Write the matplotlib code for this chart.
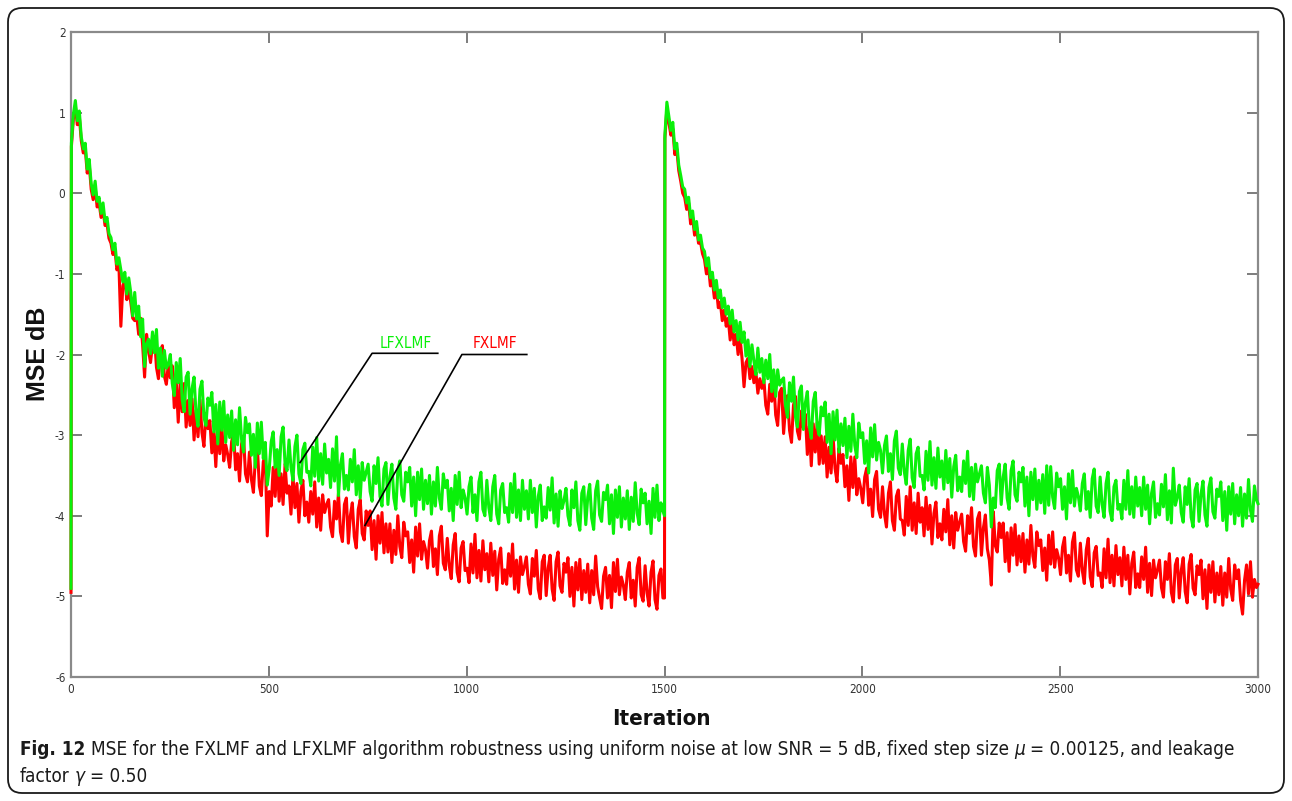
import numpy as np
import matplotlib
matplotlib.use('Agg')
import matplotlib.pyplot as plt
from matplotlib.patches import FancyBboxPatch
from matplotlib.transforms import IdentityTransform

# ---------------- data ----------------
# iteration positions: first run 0..1500, second run (re-start) 1501..3000
iters_a = np.concatenate([[0], np.arange(1, 1500, 5), [1500]])
iters_b = np.concatenate([np.arange(1501, 3000, 5), [3000]])

# LFXLMF (green), first run
lfxlmf_a = [-4.90,
    0.62, 0.98, 1.15, 0.90, 1.02, 0.70, 0.55, 0.62, 0.30, 0.42,
    0.12, -0.02, 0.15, -0.10, -0.05, -0.25, -0.12, -0.35, -0.30, -0.50,
    -0.55, -0.70, -0.62, -0.88, -0.80, -0.95, -1.10, -0.98, -1.25, -1.05,
    -1.23, -1.52, -1.23, -1.56, -1.40, -1.78, -1.56, -2.15, -1.87, -1.81,
    -1.99, -1.72, -1.98, -1.69, -2.17, -1.92, -2.27, -1.95, -2.17, -2.12,
    -2.00, -2.36, -2.51, -2.10, -2.35, -2.05, -2.56, -2.71, -2.28, -2.22,
    -2.74, -2.42, -2.28, -2.73, -2.89, -2.43, -2.33, -2.78, -2.88, -2.54,
    -2.63, -2.47, -2.96, -2.62, -3.11, -2.59, -2.94, -2.58, -3.09, -2.75,
    -3.03, -2.70, -3.19, -2.81, -3.12, -2.66, -3.05, -3.21, -2.78, -2.97,
    -2.86, -3.25, -2.99, -3.40, -2.85, -3.23, -2.84, -3.29, -3.09, -3.62,
    -3.42, -3.08, -2.96, -3.40, -3.18, -3.50, -3.02, -2.90, -3.36, -3.44,
    -3.06, -3.40, -3.56, -3.14, -3.00, -3.48, -3.60, -3.18, -3.10, -3.46,
    -3.45, -3.63, -3.15, -3.51, -3.03, -3.57, -3.23, -3.61, -3.11, -3.47,
    -3.30, -3.65, -3.17, -3.57, -3.02, -3.75, -3.37, -3.23, -3.67, -3.50,
    -3.68, -3.30, -3.58, -3.18, -3.74, -3.38, -3.78, -3.34, -3.56, -3.46,
    -3.36, -3.70, -3.82, -3.38, -3.60, -3.28, -3.76, -3.88, -3.42, -3.34,
    -3.86, -3.52, -3.36, -3.78, -3.92, -3.44, -3.32, -3.74, -3.82, -3.46,
    -3.58, -3.40, -3.88, -3.52, -4.00, -3.46, -3.80, -3.42, -3.92, -3.56,
    -3.85, -3.50, -3.98, -3.58, -3.88, -3.40, -3.78, -3.92, -3.48, -3.65,
    -3.56, -3.94, -3.66, -4.06, -3.50, -3.86, -3.46, -3.90, -3.68, -3.78,
    -3.98, -3.64, -3.52, -3.96, -3.74, -4.06, -3.58, -3.46, -3.92, -4.00,
    -3.56, -3.90, -4.06, -3.64, -3.50, -3.98, -4.10, -3.68, -3.60, -3.96,
    -3.90, -4.08, -3.60, -3.96, -3.48, -4.02, -3.68, -4.06, -3.56, -3.92,
    -3.69, -4.04, -3.56, -3.96, -3.66, -4.14, -3.76, -3.62, -4.06, -3.89,
    -4.03, -3.65, -3.93, -3.53, -4.09, -3.73, -4.13, -3.69, -3.91, -3.81,
    -3.66, -4.00, -4.12, -3.68, -3.90, -3.58, -4.06, -4.18, -3.72, -3.64,
    -4.11, -3.77, -3.61, -4.03, -4.17, -3.69, -3.57, -3.99, -4.07, -3.71,
    -3.80, -3.62, -4.10, -3.74, -4.22, -3.68, -4.02, -3.64, -4.14, -3.78,
    -4.04, -3.69, -4.17, -3.77, -4.07, -3.59, -3.97, -4.11, -3.67, -3.84,
    -3.72, -4.10, -3.82, -4.22, -3.66, -4.02, -3.62, -4.06, -3.84, -3.94,
    -4.00]

# FXLMF (red), first run
fxlmf_a = [-4.95,
    0.58, 0.92, 1.08, 0.85, 0.95, 0.65, 0.50, 0.55, 0.25, 0.36,
    0.05, -0.08, 0.08, -0.17, -0.12, -0.30, -0.20, -0.40, -0.38, -0.56,
    -0.62, -0.76, -0.70, -0.95, -0.88, -1.65, -1.15, -1.05, -1.32, -1.20,
    -1.35, -1.55, -1.58, -1.52, -1.75, -1.55, -1.88, -2.28, -1.75, -1.95,
    -2.10, -1.87, -1.78, -2.16, -2.30, -1.96, -1.89, -2.27, -2.37, -2.12,
    -2.29, -2.14, -2.66, -2.33, -2.84, -2.34, -2.71, -2.36, -2.90, -2.57,
    -2.88, -2.55, -3.06, -2.69, -3.02, -2.56, -2.97, -3.14, -2.73, -2.92,
    -2.82, -3.22, -2.96, -3.39, -2.85, -3.23, -2.85, -3.32, -3.12, -3.24,
    -3.40, -3.08, -2.97, -3.43, -3.23, -3.57, -3.11, -3.01, -3.48, -3.58,
    -3.21, -3.55, -3.71, -3.29, -3.15, -3.63, -3.75, -3.33, -3.25, -4.25,
    -3.70, -3.88, -3.40, -3.76, -3.28, -3.82, -3.48, -3.86, -3.36, -3.72,
    -3.63, -3.98, -3.50, -3.90, -3.60, -4.08, -3.70, -3.56, -4.00, -3.83,
    -4.08, -3.70, -3.98, -3.58, -4.14, -3.78, -4.18, -3.74, -3.96, -3.86,
    -3.80, -4.14, -4.26, -3.82, -4.04, -3.72, -4.20, -4.32, -3.86, -3.78,
    -4.34, -4.00, -3.84, -4.26, -4.40, -3.92, -3.80, -4.22, -4.30, -3.94,
    -4.12, -3.94, -4.42, -4.06, -4.54, -4.00, -4.34, -3.96, -4.46, -4.10,
    -4.45, -4.10, -4.58, -4.18, -4.48, -4.00, -4.38, -4.52, -4.08, -4.25,
    -4.20, -4.58, -4.30, -4.70, -4.14, -4.50, -4.10, -4.54, -4.32, -4.42,
    -4.65, -4.31, -4.19, -4.63, -4.41, -4.73, -4.25, -4.13, -4.59, -4.67,
    -4.28, -4.62, -4.78, -4.36, -4.22, -4.70, -4.82, -4.40, -4.32, -4.68,
    -4.65, -4.83, -4.35, -4.71, -4.23, -4.77, -4.43, -4.81, -4.31, -4.67,
    -4.47, -4.82, -4.34, -4.74, -4.44, -4.92, -4.54, -4.40, -4.84, -4.67,
    -4.85, -4.47, -4.75, -4.35, -4.91, -4.55, -4.95, -4.51, -4.73, -4.63,
    -4.51, -4.85, -4.97, -4.53, -4.75, -4.43, -4.91, -5.03, -4.57, -4.49,
    -4.99, -4.65, -4.49, -4.91, -5.05, -4.57, -4.45, -4.87, -4.95, -4.59,
    -4.70, -4.52, -5.00, -4.64, -5.12, -4.58, -4.92, -4.54, -5.04, -4.68,
    -4.95, -4.60, -5.08, -4.68, -4.98, -4.50, -4.88, -5.02, -5.15, -4.75,
    -4.64, -5.02, -4.74, -5.14, -4.58, -4.94, -4.54, -4.98, -4.76, -4.86,
    -5.04, -4.70, -4.58, -5.02, -4.80, -5.12, -4.64, -4.52, -4.98, -5.06,
    -4.62, -4.96, -5.12, -4.70, -4.56, -5.04, -5.16, -4.74, -4.66, -5.02,
    -5.02]

# LFXLMF (green), second run
lfxlmf_b = [
    0.72, 1.13, 0.95, 0.78, 0.88, 0.55, 0.62, 0.35, 0.22, 0.08,
    0.05, -0.12, -0.05, -0.30, -0.22, -0.45, -0.35, -0.58, -0.52, -0.68,
    -0.72, -0.90, -0.80, -1.05, -0.98, -1.20, -1.08, -1.30, -1.20, -1.42,
    -1.30, -1.50, -1.40, -1.62, -1.45, -1.72, -1.58, -1.82, -1.60, -1.85,
    -1.72, -2.02, -1.82, -2.15, -1.88, -2.08, -2.25, -1.92, -2.22, -2.05,
    -2.35, -2.07, -2.30, -2.00, -2.46, -2.19, -2.52, -2.19, -2.38, -2.32,
    -2.29, -2.64, -2.78, -2.35, -2.58, -2.28, -2.77, -2.90, -2.46, -2.39,
    -2.93, -2.60, -2.46, -2.89, -3.04, -2.58, -2.47, -2.90, -3.00, -2.65,
    -2.76, -2.59, -3.09, -2.74, -3.23, -2.71, -3.06, -2.69, -3.21, -2.86,
    -3.13, -2.79, -3.28, -2.89, -3.20, -2.74, -3.13, -3.28, -2.85, -3.03,
    -2.97, -3.35, -3.07, -3.47, -2.91, -3.27, -2.87, -3.31, -3.09, -3.19,
    -3.47, -3.13, -3.01, -3.45, -3.23, -3.55, -3.07, -2.95, -3.41, -3.49,
    -3.11, -3.45, -3.61, -3.19, -3.05, -3.53, -3.65, -3.23, -3.15, -3.51,
    -3.50, -3.68, -3.20, -3.56, -3.08, -3.62, -3.28, -3.66, -3.16, -3.52,
    -3.32, -3.67, -3.19, -3.59, -3.29, -3.77, -3.39, -3.25, -3.69, -3.52,
    -3.70, -3.32, -3.60, -3.20, -3.76, -3.40, -3.80, -3.36, -3.58, -3.48,
    -3.38, -3.72, -3.84, -3.40, -3.62, -4.14, -3.78, -3.90, -3.44, -3.36,
    -3.86, -3.52, -3.36, -3.78, -3.92, -3.44, -3.32, -3.74, -3.82, -3.46,
    -3.58, -3.40, -3.88, -3.52, -4.00, -3.46, -3.80, -3.42, -3.92, -3.56,
    -3.84, -3.49, -3.97, -3.38, -3.87, -3.39, -3.77, -3.91, -3.47, -3.64,
    -3.54, -3.92, -3.64, -4.04, -3.48, -3.84, -3.44, -3.88, -3.66, -3.76,
    -3.94, -3.60, -3.48, -3.92, -3.70, -4.02, -3.54, -3.42, -3.88, -3.96,
    -3.52, -3.86, -4.02, -3.60, -3.46, -3.94, -4.06, -3.64, -3.56, -3.92,
    -3.86, -4.04, -3.56, -3.92, -3.44, -3.98, -3.64, -4.02, -3.52, -3.88,
    -3.65, -4.00, -3.52, -3.92, -3.62, -4.10, -3.72, -3.58, -4.02, -3.85,
    -3.99, -3.61, -3.89, -3.49, -4.05, -3.69, -4.09, -3.41, -3.87, -3.77,
    -3.62, -3.96, -4.08, -3.64, -3.86, -3.54, -4.02, -4.14, -3.68, -3.60,
    -4.07, -3.73, -3.57, -3.99, -4.13, -3.65, -3.53, -3.95, -4.03, -3.67,
    -3.76, -3.58, -4.06, -3.70, -4.18, -3.64, -3.98, -3.60, -4.10, -3.74,
    -4.00, -3.65, -4.13, -3.73, -4.03, -3.55, -3.93, -4.07, -3.63, -3.80,
    -3.85]

# FXLMF (red), second run
fxlmf_b = [
    0.68, 1.05, 0.88, 0.72, 0.80, 0.48, 0.55, 0.28, 0.15, 0.00,
    -0.05, -0.20, -0.12, -0.38, -0.30, -0.52, -0.42, -0.62, -0.60, -0.75,
    -0.82, -1.00, -0.90, -1.15, -1.08, -1.30, -1.18, -1.42, -1.35, -1.58,
    -1.45, -1.65, -1.55, -1.82, -1.62, -1.88, -1.75, -2.00, -1.80, -2.05,
    -2.40, -2.10, -2.05, -2.30, -2.15, -2.35, -2.22, -2.48, -2.30, -2.42,
    -2.30, -2.63, -2.74, -2.37, -2.58, -2.31, -2.75, -2.88, -2.47, -2.42,
    -2.98, -2.65, -2.51, -2.94, -3.09, -2.63, -2.52, -2.95, -3.05, -2.70,
    -2.91, -2.74, -3.24, -2.89, -3.38, -2.86, -3.21, -2.84, -3.36, -3.01,
    -3.35, -3.02, -3.52, -3.15, -3.47, -3.01, -3.41, -3.58, -3.16, -3.35,
    -3.24, -3.64, -3.38, -3.81, -3.27, -3.65, -3.27, -3.74, -3.54, -3.66,
    -3.84, -3.52, -3.41, -3.87, -3.67, -4.01, -3.55, -3.45, -3.92, -4.02,
    -3.64, -3.98, -4.14, -3.72, -3.58, -4.06, -4.18, -3.76, -3.68, -4.04,
    -4.06, -4.24, -3.76, -4.12, -3.64, -4.18, -3.84, -4.22, -3.72, -4.08,
    -3.90, -4.25, -3.77, -4.17, -3.87, -4.35, -3.97, -3.83, -4.27, -4.10,
    -4.30, -3.92, -4.20, -3.80, -4.36, -4.00, -4.40, -3.96, -4.18, -4.08,
    -3.98, -4.32, -4.44, -4.00, -4.22, -3.90, -4.38, -4.50, -4.04, -3.96,
    -4.49, -4.15, -3.99, -4.41, -4.55, -4.86, -3.95, -4.37, -4.45, -4.09,
    -4.27, -4.09, -4.57, -4.21, -4.69, -4.15, -4.49, -4.11, -4.61, -4.25,
    -4.57, -4.22, -4.70, -4.30, -4.60, -4.12, -4.50, -4.64, -4.20, -4.37,
    -4.30, -4.68, -4.40, -4.80, -4.24, -4.60, -4.20, -4.64, -4.42, -4.52,
    -4.73, -4.39, -4.27, -4.71, -4.49, -4.81, -4.33, -4.21, -4.67, -4.75,
    -4.34, -4.68, -4.84, -4.42, -4.28, -4.76, -4.88, -4.46, -4.38, -4.74,
    -4.71, -4.89, -4.41, -4.77, -4.29, -4.83, -4.49, -4.87, -4.37, -4.73,
    -4.52, -4.87, -4.39, -4.79, -4.49, -4.97, -4.59, -4.45, -4.89, -4.72,
    -4.89, -4.51, -4.79, -4.39, -4.95, -4.59, -4.99, -4.55, -4.77, -4.67,
    -4.55, -4.89, -5.01, -4.57, -4.79, -4.47, -4.95, -5.07, -4.61, -4.53,
    -5.02, -4.68, -4.52, -4.94, -5.08, -4.60, -4.48, -4.90, -4.98, -4.62,
    -4.73, -4.55, -5.03, -4.67, -5.15, -4.61, -4.95, -4.57, -5.07, -4.71,
    -4.98, -4.63, -5.11, -4.71, -5.01, -4.53, -4.91, -5.05, -4.61, -4.78,
    -4.67, -5.05, -5.22, -4.80, -4.61, -4.97, -4.57, -5.01, -4.79, -4.89,
    -4.85]

x_ticks = [0, 500, 1000, 1500, 2000, 2500, 3000]
y_ticks = [-6, -5, -4, -3, -2, -1, 0, 1, 2]
series_names = ['LFXLMF', 'FXLMF']

# annotation leader lines (data coords)
lf_leader_x, lf_leader_y = [579, 761, 927], [-3.34, -1.985, -1.985]
fx_leader_x, fx_leader_y = [743, 988, 1152], [-4.12, -2.0, -2.0]

GREEN = '#0af00a'
RED = '#ff0000'
NARROW = dict(family='DejaVu Sans', fontstretch='condensed')

# ---------------- figure ----------------
W, H = 1292, 801
fig = plt.figure(figsize=(W / 100, H / 100), dpi=100)
fig.patch.set_facecolor('white')

border = FancyBboxPatch((8, 8), W - 16, H - 16,
                        boxstyle='round,pad=0,rounding_size=14',
                        transform=IdentityTransform(), fill=False,
                        edgecolor='#1a1a1a', linewidth=1.3)
fig.patches.append(border)

ax = fig.add_axes([71 / W, 1 - 677 / H, (1258 - 71) / W, (677 - 32) / H])

iters = np.concatenate([iters_a, iters_b])
lf = np.array(lfxlmf_a + lfxlmf_b)
fx = np.array(fxlmf_a + fxlmf_b)

ax.plot(iters, fx, color=RED, lw=2.2, zorder=3, clip_on=False)
ax.plot(iters, lf, color=GREEN, lw=2.2, zorder=3.1, clip_on=False)

ax.plot(lf_leader_x, lf_leader_y, color='black', lw=1.2, zorder=4)
ax.plot(fx_leader_x, fx_leader_y, color='black', lw=1.2, zorder=4)
ax.text(847, -1.96, series_names[0], color=GREEN, ha='center', va='bottom',
        fontsize=11, **NARROW)
ax.text(1072, -1.96, series_names[1], color=RED, ha='center', va='bottom',
        fontsize=11, **NARROW)

ax.set_xlim(0, 3000)
ax.set_ylim(-6, 2)
ax.set_xticks(x_ticks)
ax.set_yticks(y_ticks)
ax.set_xticklabels([str(v) for v in x_ticks])
ax.set_yticklabels([str(v) for v in y_ticks])
for s in ax.spines.values():
    s.set_color('#8a8a8a')
    s.set_linewidth(1.6)
ax.tick_params(direction='in', length=8, width=1.2, color='#666666',
               top=True, right=True, labelsize=8.5, labelcolor='#333333', pad=4)
for lbl in ax.get_xticklabels() + ax.get_yticklabels():
    lbl.set_family('DejaVu Sans')
    lbl.set_fontstretch('condensed')

fig.text(38 / W, 1 - 354 / H, 'MSE dB', rotation=90, ha='center', va='center',
         fontsize=18, fontweight='bold', family=['Liberation Sans', 'DejaVu Sans'],
         color='#111111')
fig.text(661 / W, 1 - 719 / H, 'Iteration', ha='center', va='center',
         fontsize=16, fontweight='bold', color='#111111', **NARROW)

# ---------------- caption ----------------
renderer = fig.canvas.get_renderer()


def width_of(txt, size, **kw):
    t = fig.text(0, 0, txt, fontsize=size, **NARROW, **kw)
    w = t.get_window_extent(renderer=renderer).width
    t.remove()
    return w


line1 = [('Fig. 12', {'fontweight': 'bold'}),
         ('MSE for the FXLMF and LFXLMF algorithm robustness using uniform noise at low SNR = 5 dB, fixed step size', {}),
         ('\u03bc', {'fontstyle': 'italic'}),
         ('= 0.00125, and leakage', {})]
line2 = [('factor', {}), ('\u03b3', {'fontstyle': 'italic'}), ('= 0.50', {})]


def total_width(pieces, size):
    sp = width_of('a a', size) - width_of('aa', size)
    return sum(width_of(t, size, **kw) for t, kw in pieces) + sp * (len(pieces) - 1)


ref = 10.0
target = 1238 - 20
cap_size = ref * target / total_width(line1, ref)


def draw_line(pieces, x_px, y_px, size):
    sp = width_of('a a', size) - width_of('aa', size)
    x = x_px
    for t, kw in pieces:
        txt = fig.text(x / W, 1 - y_px / H, t, fontsize=size,
                       ha='left', va='baseline', color='#1a1a1a', **NARROW, **kw)
        x = txt.get_window_extent(renderer=renderer).x1 + sp


draw_line(line1, 20, 755, cap_size)
draw_line(line2, 20, 782, cap_size)

fig.savefig('out.png', dpi=100, facecolor='white')
